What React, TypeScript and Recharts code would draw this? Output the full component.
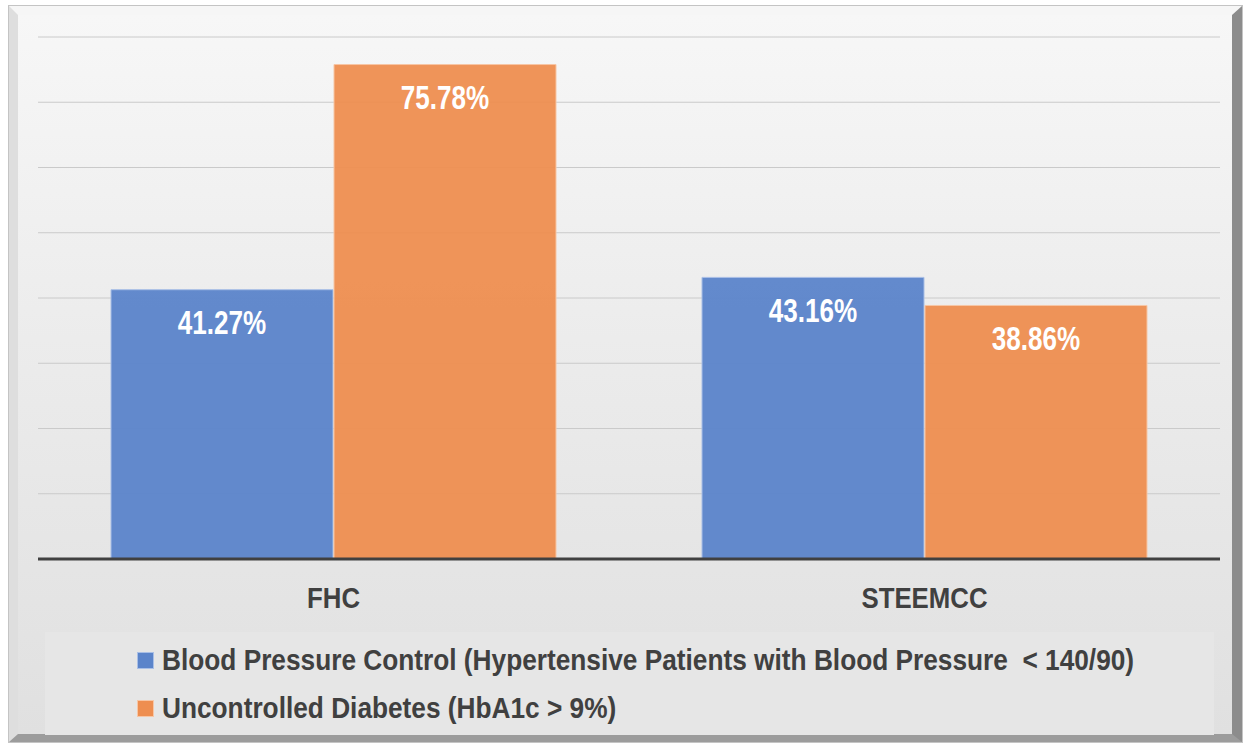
import React from 'react';
import { BarChart, Bar, XAxis, YAxis, CartesianGrid, LabelList } from 'recharts';

const categories = ['FHC', 'STEEMCC'];
const bpControl = [41.27, 43.16];
const uncontrolledDiabetes = [75.78, 38.86];
const yTicks = [0, 10, 20, 30, 40, 50, 60, 70, 80];

const seriesNames = [
  'Blood Pressure Control (Hypertensive Patients with Blood Pressure  < 140/90)',
  'Uncontrolled Diabetes (HbA1c > 9%)',
];
const seriesColors = ['#5b84ca', '#ee8e50'];
const seriesStrokes = ['#a9bfe6', '#f7c6a5'];

const chartData = categories.map((name, i) => ({
  name,
  bp: bpControl[i],
  diab: uncontrolledDiabetes[i],
}));

// no narrow font installed, so squeeze Liberation Sans horizontally
const FONT = "'Liberation Sans', Arial, sans-serif";

const renderValue = (props: any) => {
  const { x, y, width, value } = props;
  const cx = Number(x) + Number(width) / 2;
  const cy = Number(y) + 33;
  return (
    <text
      transform={`translate(${cx},${cy}) scale(0.79,1)`}
      x={0}
      y={0}
      textAnchor="middle"
      dominantBaseline="central"
      fill="#ffffff"
      fontSize={33}
      fontWeight={700}
      fontFamily={FONT}
    >
      {`${Number(value).toFixed(2)}%`}
    </text>
  );
};

const renderTick = (props: any) => {
  const { x, y, payload } = props;
  return (
    <text
      transform={`translate(${x},${Number(y) + 31}) scale(0.86,1)`}
      x={0}
      y={0}
      textAnchor="middle"
      dominantBaseline="central"
      fill="#404040"
      fontSize={30}
      fontWeight={700}
      fontFamily={FONT}
    >
      {payload.value}
    </text>
  );
};

const App: React.FC = () => {
  return (
    <div style={{ position: 'absolute', left: 0, top: 0, width: 1243, height: 746, background: '#ffffff', overflow: 'hidden' }}>
      {/* bevelled frame */}
      <div
        style={{
          position: 'absolute',
          left: 8,
          top: 5,
          width: 1235,
          height: 738,
          boxSizing: 'border-box',
          border: '1px solid #c4c4c4',
        }}
      >
        <div
          style={{
            position: 'absolute',
            inset: 0,
            boxSizing: 'border-box',
            borderTop: '9px solid #f6f6f6',
            borderLeft: '9px solid #dedede',
            borderRight: '10px solid #8c8c8c',
            borderBottom: '8px solid #9c9c9c',
            background: 'linear-gradient(to bottom, #f7f7f7 0%, #ececec 45%, #e0e0e0 100%)',
          }}
        />
      </div>

      <div style={{ position: 'absolute', left: 0, top: 0 }}>
        <BarChart
          width={1243}
          height={746}
          data={chartData}
          margin={{ top: 37, right: 23, left: 38, bottom: 147 }}
          barCategoryGap={73}
          barGap={1}
        >
          <CartesianGrid horizontal vertical={false} stroke="#cacaca" strokeWidth={1} />
          <YAxis hide domain={[0, 80]} ticks={yTicks} type="number" />
          <XAxis
            dataKey="name"
            axisLine={{ stroke: '#404040', strokeWidth: 3 }}
            tickLine={false}
            tick={renderTick}
            height={40}
            interval={0}
          />
          <Bar dataKey="bp" fill={seriesColors[0]} fillOpacity={0.95} stroke={seriesStrokes[0]} strokeWidth={1} isAnimationActive={false}>
            <LabelList dataKey="bp" content={renderValue} />
          </Bar>
          <Bar dataKey="diab" fill={seriesColors[1]} fillOpacity={0.95} stroke={seriesStrokes[1]} strokeWidth={1} isAnimationActive={false}>
            <LabelList dataKey="diab" content={renderValue} />
          </Bar>
        </BarChart>
      </div>

      {/* legend */}
      <div
        style={{
          position: 'absolute',
          left: 45,
          top: 632,
          width: 1169,
          height: 103,
          background: '#e6e6e6',
          fontFamily: FONT,
          fontWeight: 700,
          fontSize: 29,
          color: '#404040',
        }}
      >
        {seriesNames.map((name, i) => (
          <div
            key={name}
            style={{
              position: 'absolute',
              left: 92,
              top: 11 + i * 48,
              height: 34,
              display: 'flex',
              alignItems: 'center',
              whiteSpace: 'pre',
            }}
          >
            <span
              style={{
                display: 'inline-block',
                width: 15,
                height: 15,
                background: seriesColors[i],
                border: `1px solid ${seriesStrokes[i]}`,
                marginRight: 8,
              }}
            />
            <span style={{ display: 'inline-block', transform: 'scaleX(0.905)', transformOrigin: 'left center' }}>{name}</span>
          </div>
        ))}
      </div>
    </div>
  );
};

export default App;
